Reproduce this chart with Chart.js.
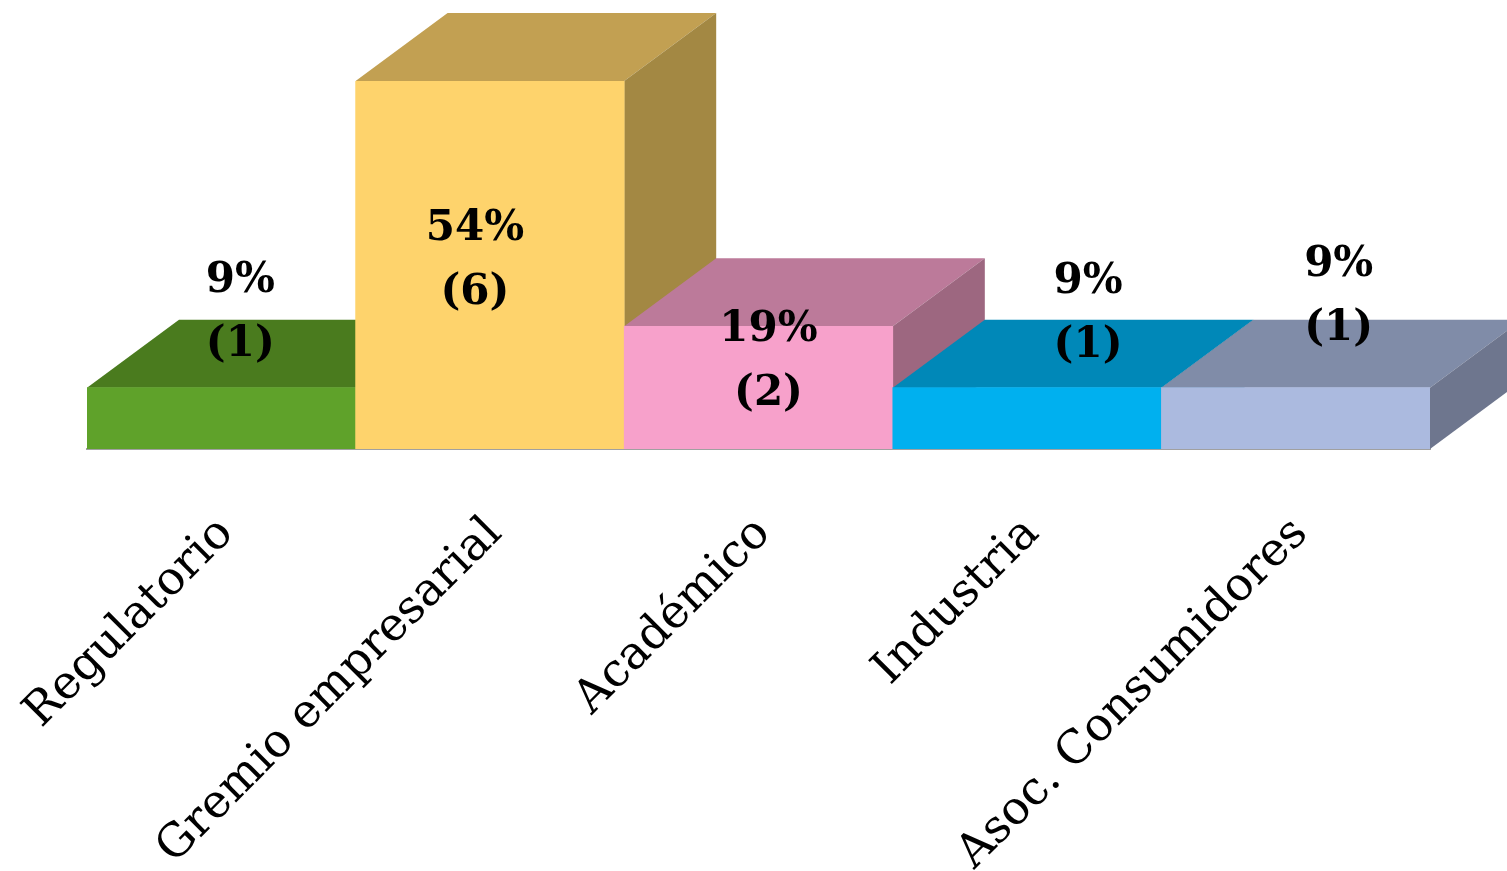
<!DOCTYPE html>
<html>
<head>
<meta charset="utf-8">
<script src="https://cdn.jsdelivr.net/npm/chart.js@4.4.0/dist/chart.umd.min.js"></script>
<style>
  html, body { margin: 0; padding: 0; background: #fff; }
  #wrap { width: 1507px; height: 871px; position: relative; }
</style>
</head>
<body>
<div id="wrap"><canvas id="chart"></canvas></div>
<script>
const categories = ["Regulatorio", "Gremio empresarial", "Académico", "Industria", "Asoc. Consumidores"];
const counts = [1, 6, 2, 1, 1];
const percents = [9, 54, 19, 9, 9];

// colores de cada cara
const frontColors = ["#5FA22A", "#FED36C", "#F7A1CB", "#00B0EF", "#ABBADF"];
const topColors = ["#4A7B1E", "#C2A052", "#BC7A9A", "#0088B8", "#808CA8"];
const sideColors = ["#3E6719", "#A38843", "#9D6780", "#00739C", "#6E768E"];
// desplazamiento de etiquetas (px) desde el centro / borde superior de la cara frontal
const labelNudge = [[19, -107], [-15, 148], [10, 4], [61, -106], [43, -123]];

const DEPTH_X = 92, DEPTH_Y = -68;

const bars3d = {
    id: "bars3d",
    beforeDatasetsDraw(chart) {
        const ctx = chart.ctx;
        const meta = chart.getDatasetMeta(0);
        ctx.save();
        meta.data.forEach((bar, i) => {
            const { x, y, base, width } = bar.getProps(["x", "y", "base", "width"], true);
            const x1 = x - width / 2, x2 = x + width / 2;
            // cara superior
            ctx.fillStyle = topColors[i];
            ctx.beginPath();
            ctx.moveTo(x1, y);
            ctx.lineTo(x2, y);
            ctx.lineTo(x2 + DEPTH_X, y + DEPTH_Y);
            ctx.lineTo(x1 + DEPTH_X, y + DEPTH_Y);
            ctx.closePath();
            ctx.fill();
            // cara lateral
            ctx.fillStyle = sideColors[i];
            ctx.beginPath();
            ctx.moveTo(x2, y);
            ctx.lineTo(x2 + DEPTH_X, y + DEPTH_Y);
            ctx.lineTo(x2 + DEPTH_X, base + DEPTH_Y);
            ctx.lineTo(x2, base);
            ctx.closePath();
            ctx.fill();
        });
        ctx.restore();
    },
    afterDatasetsDraw(chart) {
        const ctx = chart.ctx;
        const meta = chart.getDatasetMeta(0);
        ctx.save();
        ctx.fillStyle = "#000";
        ctx.font = "bold 42px 'DejaVu Serif'";
        ctx.textAlign = "center";
        ctx.textBaseline = "middle";
        meta.data.forEach((bar, i) => {
            const cx = bar.x + labelNudge[i][0];
            const cy = bar.y + labelNudge[i][1];
            ctx.fillText(percents[i] + "%", cx, cy);
            ctx.fillText("(" + counts[i] + ")", cx, cy + 64);
        });
        ctx.restore();
    }
};

new Chart(document.getElementById("chart"), {
    type: "bar",
    data: {
        labels: categories,
        datasets: [{
            data: counts,
            backgroundColor: frontColors,
            borderWidth: 0,
            categoryPercentage: 1,
            barPercentage: 1,
        }]
    },
    options: {
        responsive: true,
        maintainAspectRatio: false,
        animation: false,
        layout: { padding: { top: 81, left: 87, right: 77, bottom: 0 } },
        plugins: { legend: { display: false }, tooltip: { enabled: false } },
        scales: {
            y: { display: false, min: 0, max: 6 },
            x: {
                z: 1,
                grid: { display: false, drawTicks: false },
                border: { display: true, color: "#A0A0A0", width: 2 },
                ticks: {
                    autoSkip: false,
                    minRotation: 45,
                    maxRotation: 45,
                    color: "#000",
                    padding: 58,
                    labelOffset: 5,
                    font: { family: "DejaVu Serif", size: 46 }
                },
                afterFit(scale) {
                    scale.height = 422;
                    scale.paddingLeft = 0;
                    scale.paddingRight = 0;
                }
            }
        }
    },
    plugins: [bars3d]
});
</script>
</body>
</html>
